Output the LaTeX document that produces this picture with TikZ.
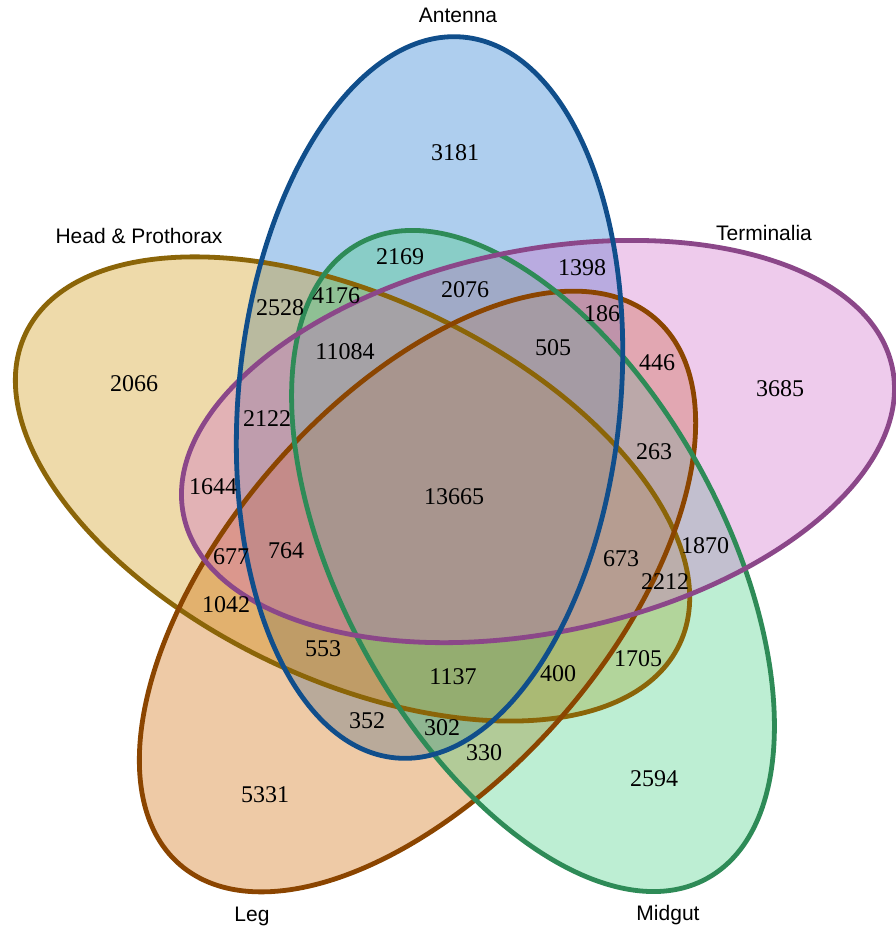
\documentclass[tikz,border=0pt]{standalone}
\usepackage{fontspec}
\setmainfont{Liberation Serif}
\newfontfamily\labelfont{Liberation Sans}
\definecolor{fillA}{RGB}{24,116,205}
\definecolor{lineA}{RGB}{16,78,139}
\definecolor{fillT}{RGB}{205,105,201}
\definecolor{lineT}{RGB}{139,71,137}
\definecolor{fillH}{RGB}{205,149,12}
\definecolor{lineH}{RGB}{139,101,8}
\definecolor{fillL}{RGB}{205,102,0}
\definecolor{lineL}{RGB}{139,69,0}
\definecolor{fillM}{RGB}{67,205,128}
\definecolor{lineM}{RGB}{46,139,87}
\begin{document}
\begin{tikzpicture}[x=1pt,y=1pt,
  num/.style={font=\fontsize{24}{24}\selectfont, inner sep=0pt},
  setlabel/.style={font=\labelfont\fontsize{21}{21}\selectfont, inner sep=0pt, anchor=base},
  vennfill/.style={fill opacity=0.35},
  vennline/.style={line width=4.8pt}]
\useasboundingbox (0,0) rectangle (895,928);
% centres
\coordinate (cA) at (429.5,530.5);
\coordinate (cH) at (352.5,439);
\coordinate (cL) at (417.5,336.5);
\coordinate (cM) at (533,367);
\coordinate (cT) at (538,486.5);
% fills
\fill[fillA, vennfill, rotate around={84.6:(cA)}] (cA) ellipse [x radius=362pt, y radius=191pt];
\fill[fillH, vennfill, rotate around={154.6:(cH)}] (cH) ellipse [x radius=362pt, y radius=191pt];
\fill[fillL, vennfill, rotate around={48.9:(cL)}] (cL) ellipse [x radius=362pt, y radius=191pt];
\fill[fillM, vennfill, rotate around={-61.3:(cM)}] (cM) ellipse [x radius=362pt, y radius=191pt];
\fill[fillT, vennfill, rotate around={11.8:(cT)}] (cT) ellipse [x radius=362pt, y radius=191pt];
% outlines
\draw[lineH, vennline, rotate around={154.6:(cH)}] (cH) ellipse [x radius=362pt, y radius=191pt];
\draw[lineL, vennline, rotate around={48.9:(cL)}] (cL) ellipse [x radius=362pt, y radius=191pt];
\draw[lineM, vennline, rotate around={-61.3:(cM)}] (cM) ellipse [x radius=362pt, y radius=191pt];
\draw[lineT, vennline, rotate around={11.8:(cT)}] (cT) ellipse [x radius=362pt, y radius=191pt];
\draw[lineA, vennline, rotate around={84.6:(cA)}] (cA) ellipse [x radius=362pt, y radius=191pt];
% set labels
\node[setlabel] (labA) at (458,905) {Antenna};
\node[setlabel] (labH) at (139,684) {Head \& Prothorax};
\node[setlabel] (labT) at (764,687) {Terminalia};
\node[setlabel] (labL) at (252,6) {Leg};
\node[setlabel] (labM) at (668,7) {Midgut};
% region counts
\node[num] (n3181) at (455,775) {3181};
\node[num] (n2169) at (400,671) {2169};
\node[num] (n1398) at (582,660) {1398};
\node[num] (n2528) at (280,620) {2528};
\node[num] (n4176) at (336,632) {4176};
\node[num] (n2076) at (465,638) {2076};
\node[num] (n186) at (602,614) {186};
\node[num] (n11084) at (345,576) {11084};
\node[num] (n505) at (553,580) {505};
\node[num] (n446) at (657,565) {446};
\node[num] (n2066) at (134,544) {2066};
\node[num] (n3685) at (780,539) {3685};
\node[num] (n2122) at (267,509) {2122};
\node[num] (n263) at (654,476) {263};
\node[num] (n1644) at (213,441) {1644};
\node[num] (n13665) at (454,431) {13665};
\node[num] (n1870) at (705,382) {1870};
\node[num] (n677) at (231,371) {677};
\node[num] (n764) at (286,377) {764};
\node[num] (n673) at (621,369) {673};
\node[num] (n2212) at (665,346) {2212};
\node[num] (n1042) at (226,323) {1042};
\node[num] (n553) at (323,279) {553};
\node[num] (n1705) at (638,269) {1705};
\node[num] (n1137) at (453,251) {1137};
\node[num] (n400) at (558,254) {400};
\node[num] (n352) at (367,207) {352};
\node[num] (n302) at (442,200) {302};
\node[num] (n330) at (484,175) {330};
\node[num] (n5331) at (265,133) {5331};
\node[num] (n2594) at (654,149) {2594};
\end{tikzpicture}
\end{document}
